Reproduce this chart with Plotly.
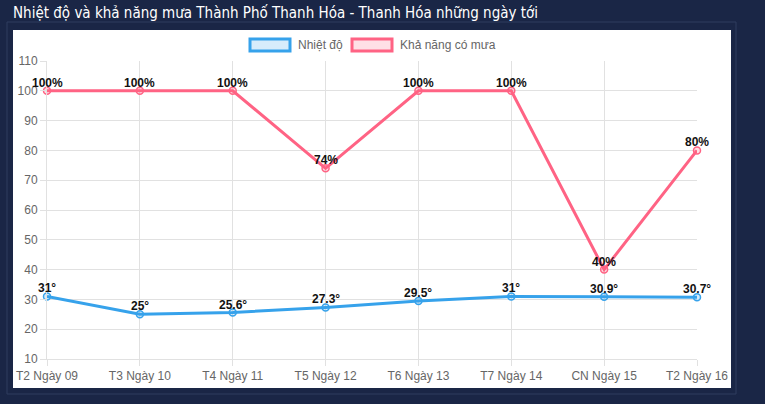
import plotly.graph_objects as go

categories = ["T2 Ngày 09", "T3 Ngày 10", "T4 Ngày 11", "T5 Ngày 12", "T6 Ngày 13", "T7 Ngày 14", "CN Ngày 15", "T2 Ngày 16"]
temps = [31, 25, 25.6, 27.3, 29.5, 31, 30.9, 30.7]
rain = [100, 100, 100, 74, 100, 100, 40, 80]
temp_labels = ["31°", "25°", "25.6°", "27.3°", "29.5°", "31°", "30.9°", "30.7°"]
rain_labels = ["100%", "100%", "100%", "74%", "100%", "100%", "40%", "80%"]
y_ticks = [10, 20, 30, 40, 50, 60, 70, 80, 90, 100, 110]

BLUE = "#36a2eb"
PINK = "#ff6384"
W, H = 765, 404
L, R, T, B = 47, 697, 61, 359

def px(x):
    return (x - L) / (R - L)

def py(y):
    return (B - y) / (B - T)

fig = go.Figure()
fig.add_trace(go.Scatter(
    x=categories, y=temps, mode="lines+markers",
    line=dict(color=BLUE, width=3),
    marker=dict(symbol="circle", size=7, color="rgba(54,162,235,0.2)", line=dict(color=BLUE, width=1.5)),
    cliponaxis=False, showlegend=False, name="Nhiệt độ"))
fig.add_trace(go.Scatter(
    x=categories, y=rain, mode="lines+markers",
    line=dict(color=PINK, width=3),
    marker=dict(symbol="circle", size=7, color="rgba(255,99,132,0.2)", line=dict(color=PINK, width=1.5)),
    cliponaxis=False, showlegend=False, name="Khả năng có mưa"))

shapes = [
    dict(type="rect", xref="paper", yref="paper", x0=px(7), x1=px(736), y0=py(394), y1=py(22),
         line=dict(color="#2e3d5f", width=1), fillcolor="rgba(0,0,0,0)", layer="below"),
    dict(type="rect", xref="paper", yref="paper", x0=px(13), x1=px(731), y0=py(388), y1=py(30),
         line=dict(width=0), fillcolor="#ffffff", layer="below"),
    dict(type="rect", xref="paper", yref="paper", x0=px(250), x1=px(290), y0=py(51), y1=py(39),
         line=dict(color=BLUE, width=3), fillcolor="rgba(54,162,235,0.2)"),
    dict(type="rect", xref="paper", yref="paper", x0=px(352), x1=px(392), y0=py(51), y1=py(39),
         line=dict(color=PINK, width=3), fillcolor="rgba(255,99,132,0.2)"),
]

annotations = [
    dict(text="Nhiệt độ và khả năng mưa Thành Phố Thanh Hóa - Thanh Hóa những ngày tới",
         xref="paper", yref="paper", x=px(11), y=py(13), xanchor="left", yanchor="middle",
         showarrow=False, font=dict(color="#ffffff", size=15, family="DejaVu Sans Condensed, DejaVu Sans")),
    dict(text="Nhiệt độ", xref="paper", yref="paper", x=px(296), y=py(45), xanchor="left", yanchor="middle",
         showarrow=False, font=dict(color="#666", size=12, family="Liberation Sans")),
    dict(text="Khả năng có mưa", xref="paper", yref="paper", x=px(398), y=py(45), xanchor="left", yanchor="middle",
         showarrow=False, font=dict(color="#666", size=12, family="Liberation Sans")),
]

for cat, val, lab in zip(categories, temps, temp_labels):
    annotations.append(dict(x=cat, y=val, xref="x", yref="y", text=lab, showarrow=False,
                            yanchor="middle", yshift=8,
                            font=dict(color="#111", size=12, family="Liberation Sans", weight="bold")))
for cat, val, lab in zip(categories, rain, rain_labels):
    annotations.append(dict(x=cat, y=val, xref="x", yref="y", text=lab, showarrow=False,
                            yanchor="middle", yshift=8,
                            font=dict(color="#111", size=12, family="Liberation Sans", weight="bold")))

fig.update_layout(
    width=W, height=H,
    margin=dict(l=L, r=W - R, t=T, b=H - B),
    paper_bgcolor="#1a2646",
    plot_bgcolor="#ffffff",
    shapes=shapes,
    annotations=annotations,
    font=dict(family="Liberation Sans", color="#666", size=12),
)
fig.update_xaxes(
    type="category", range=[0, 7], showgrid=True, gridcolor="#e1e1e1", gridwidth=1,
    ticks="outside", ticklen=6, tickcolor="#e1e1e1", tickfont=dict(color="#666", size=12),
    showline=True, linecolor="#e1e1e1", zeroline=False, fixedrange=True,
)
fig.update_yaxes(
    range=[10, 110], tickvals=y_ticks, showgrid=True, gridcolor="#e1e1e1", gridwidth=1,
    ticks="outside", ticklen=6, tickcolor="#e1e1e1", tickfont=dict(color="#666", size=12),
    showline=True, linecolor="#e1e1e1", zeroline=False, fixedrange=True,
)

fig.write_html("out.html")
